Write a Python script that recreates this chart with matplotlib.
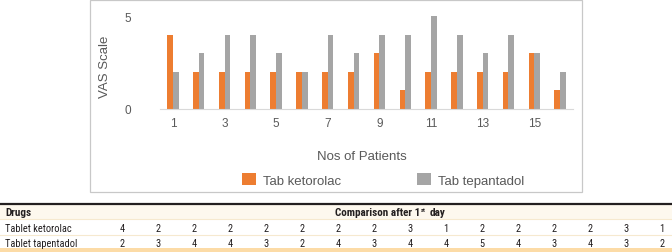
import numpy as np
import matplotlib
matplotlib.use("Agg")
import matplotlib.pyplot as plt
from matplotlib.patches import Rectangle

# data
patients = list(range(1, 17))
ketorolac = [4, 2, 2, 2, 2, 2, 2, 2, 3, 1, 2, 2, 2, 2, 3, 1]
tapentadol = [2, 3, 4, 4, 3, 2, 4, 3, 4, 4, 5, 4, 3, 4, 3, 2]
xtick_vals = [1, 3, 5, 7, 9, 11, 13, 15]
ytick_vals = [0, 5]
series_names = ["Tab ketorolac", "Tab tepantadol"]
row_names = ["Tablet ketorolac", "Tablet tapentadol"]
header = ["Drugs", "Comparison after 1", "st", "day"]

orange, grey, txt = "#ED7D31", "#A5A5A5", "#595959"
plt.rcParams["font.family"] = ["Liberation Sans", "DejaVu Sans"]
narrow = ["Roboto Condensed", "DejaVu Sans"]

W, H = 672, 253
fig = plt.figure(figsize=(W / 100, H / 100), dpi=100)

def fx(px):
    return px / W

def fy(py):
    return 1 - py / H

# chart frame
fig.add_artist(Rectangle((fx(90), fy(193)), fx(582) - fx(90), fy(1) - fy(193),
                         transform=fig.transFigure, fill=False, ec="#c8c8c8", lw=0.9))

ax = fig.add_axes([fx(160), fy(110), fx(573) - fx(160), fy(8) - fy(110)])
x = np.array(patients)
w = 0.22
ax.bar(x - w / 2, ketorolac, w, color=orange, label=series_names[0])
ax.bar(x + w / 2, tapentadol, w, color=grey, label=series_names[1])
ax.set_xlim(0.5, 16.5)
ax.set_ylim(0, 5.5)
ax.set_xticks(xtick_vals)
ax.set_xticklabels([str(v) for v in xtick_vals])
ax.set_yticks(ytick_vals)
ax.tick_params(length=0, labelsize=8.5, colors=txt)
ax.tick_params(axis="y", pad=21)
ax.tick_params(axis="x", pad=6)
for s in ["top", "right", "left"]:
    ax.spines[s].set_visible(False)
ax.spines["bottom"].set_color("#d9d9d9")
ax.patch.set_alpha(0)

fig.text(fx(105), fy(67), "VAS Scale", rotation=90, ha="center", va="center",
         fontsize=9.5, color=txt)
fig.text(fx(362), fy(157), "Nos of Patients", ha="center", va="center",
         fontsize=9.5, color=txt)
fig.legend(loc="center", bbox_to_anchor=(fx(383), fy(181)), ncol=2, frameon=False,
           fontsize=9.5, handlelength=1.05, handleheight=1.05, handletextpad=0.5,
           columnspacing=5.8, labelcolor=txt)

# table
fig.add_artist(plt.Line2D([0, 1], [fy(205), fy(205)], transform=fig.transFigure,
                          color="#231f20", lw=1.6))
fig.add_artist(Rectangle((0, fy(220)), 1, fy(206) - fy(220), transform=fig.transFigure,
                         color="#fdf8ee", lw=0))
for yl in [220, 236]:
    fig.add_artist(plt.Line2D([0, 1], [fy(yl), fy(yl)], transform=fig.transFigure,
                              color="#f6e9cf", lw=0.8))
fig.add_artist(Rectangle((0, 0), 1, fy(249), transform=fig.transFigure,
                         color="#fcdba6", lw=0))

tc = "#231f20"
fs = 7.5
hs = 8
fig.text(fx(5), fy(213), header[0], ha="left", va="center", fontsize=hs,
         fontweight="bold", family=narrow, color=tc)
t1 = fig.text(fx(335), fy(213), header[1], ha="left", va="center", fontsize=hs,
              fontweight="bold", family=narrow, color=tc)
st = plt.annotate(header[2], xy=(1, 0.78), xycoords=t1, xytext=(0.5, 0),
                  textcoords="offset points", ha="left", va="center",
                  fontsize=4.5, fontweight="bold", family=narrow, color=tc,
                  annotation_clip=False)
fig.add_artist(st)
day = plt.annotate(header[3], xy=(1, 0), xycoords=(st, t1), xytext=(3, 0),
                   textcoords="offset points", ha="left", va="bottom",
                   fontsize=hs, fontweight="bold", family=narrow, color=tc,
                   annotation_clip=False)
fig.add_artist(day)

col_x = [122 + 36 * i for i in range(16)]
for ri, (name, vals) in enumerate(zip(row_names, [ketorolac, tapentadol])):
    yy = fy(229 + 15 * ri)
    fig.text(fx(5), yy, name, ha="left", va="center", fontsize=fs, family=narrow, color=tc)
    for cx, v in zip(col_x, vals):
        fig.text(fx(cx), yy, str(v), ha="center", va="center", fontsize=fs,
                 family=narrow, color=tc)

fig.savefig("out.png", dpi=100)
